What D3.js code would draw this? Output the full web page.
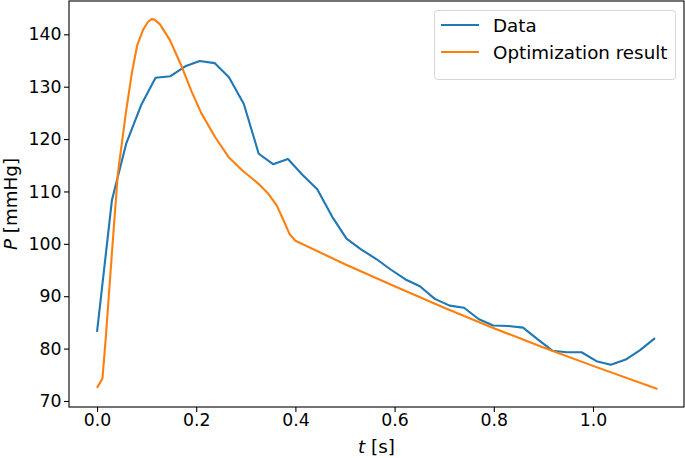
<!doctype html>
<html>

<head>
    <meta charset="utf-8">
    <title>Pressure fit</title>
    <script src="https://cdnjs.cloudflare.com/ajax/libs/d3/7.8.5/d3.min.js"></script>
    <style>
        body { margin: 0; background: #fff; }
        text { font-family: "DejaVu Sans", sans-serif; fill: #000; }
    </style>
</head>

<body>
    <div id="chart"></div>

    <script>
        // measured data (blue)
        const dataT = [0, 0.030, 0.059, 0.089, 0.118, 0.148, 0.178, 0.207, 0.237, 0.266,
            0.296, 0.326, 0.355, 0.385, 0.414, 0.444, 0.474, 0.503, 0.533, 0.563,
            0.592, 0.622, 0.651, 0.681, 0.711, 0.740, 0.770, 0.799, 0.829, 0.859,
            0.888, 0.918, 0.947, 0.977, 1.007, 1.036, 1.066, 1.095, 1.125];
        const dataP = [83.2, 108.3, 119.2, 126.5, 131.7, 132.0, 133.9, 134.9, 134.5, 131.8,
            126.7, 117.2, 115.2, 116.2, 113.2, 110.4, 105.2, 101.0, 98.9, 97.1,
            95.1, 93.2, 91.9, 89.5, 88.2, 87.8, 85.6, 84.4, 84.3, 84.0,
            81.8, 79.6, 79.3, 79.3, 77.6, 76.9, 77.9, 79.7, 82.0];

        // optimization result (orange)
        const optT = [0, 0.011, 0.018, 0.030, 0.042, 0.058, 0.070, 0.081, 0.093, 0.103,
            0.110, 0.116, 0.127, 0.147, 0.171, 0.191, 0.210, 0.238, 0.265, 0.292,
            0.325, 0.345, 0.362, 0.376, 0.388, 0.400, 0.50, 0.60, 0.70, 0.80,
            0.90, 1.00, 1.13];
        const optP = [72.5, 74.3, 82.5, 98.2, 113.4, 124.9, 132.5, 137.9, 140.9, 142.4,
            142.9, 142.8, 141.9, 138.9, 133.8, 129.0, 125.0, 120.4, 116.6, 114.1,
            111.5, 109.6, 107.4, 104.5, 101.9, 100.6, 96.1, 91.9, 87.8, 83.9,
            80.2, 76.7, 72.3];

        const xTicks = [0.0, 0.2, 0.4, 0.6, 0.8, 1.0];
        const yTicks = [70, 80, 90, 100, 110, 120, 130, 140];
        const seriesNames = ["Data", "Optimization result"];
        const colors = ["#1f77b4", "#ff7f0e"];

        const W = 685, H = 458;
        const mLeft = 69, mRight = 684, mTop = 1, mBottom = 407;
        const tickFont = 17.3, labelFont = 18.3;

        const svg = d3.select("#chart").append("svg")
            .attr("width", W)
            .attr("height", H);

        const x = d3.scaleLinear().domain([-0.0565, 1.1835]).range([mLeft, mRight]);
        const y = d3.scaleLinear().domain([68.85, 146.36]).range([mBottom, mTop]);

        // lines
        const line = d3.line().x(d => x(d[0])).y(d => y(d[1]));
        const series = [d3.zip(dataT, dataP), d3.zip(optT, optP)];

        svg.append("g")
            .selectAll("path")
            .data(series)
            .join("path")
            .attr("d", line)
            .attr("fill", "none")
            .attr("stroke", (d, i) => colors[i])
            .attr("stroke-width", 2.1)
            .attr("stroke-linejoin", "round")
            .attr("stroke-linecap", "butt");

        // axes
        const xAxis = svg.append("g")
            .attr("transform", `translate(0,${mBottom})`)
            .call(d3.axisBottom(x).tickValues(xTicks).tickFormat(d3.format(".1f")).tickSize(5).tickPadding(2));
        const yAxis = svg.append("g")
            .attr("transform", `translate(${mLeft},0)`)
            .call(d3.axisLeft(y).tickValues(yTicks).tickSize(5).tickPadding(2.5));

        [xAxis, yAxis].forEach(g => {
            g.select(".domain").remove();
            g.selectAll(".tick line").attr("stroke", "#000").attr("stroke-width", 1.1);
            g.selectAll(".tick text").attr("font-size", tickFont).attr("font-family", "DejaVu Sans");
        });

        // frame
        svg.append("rect")
            .attr("x", mLeft).attr("y", mTop)
            .attr("width", mRight - mLeft).attr("height", mBottom - mTop)
            .attr("fill", "none")
            .attr("stroke", "#000")
            .attr("stroke-width", 1.1);

        // axis labels
        const xl = svg.append("text")
            .attr("x", (mLeft + mRight) / 2)
            .attr("y", 453)
            .attr("text-anchor", "middle")
            .attr("font-size", labelFont);
        xl.append("tspan").attr("font-style", "italic").text("t");
        xl.append("tspan").text(" [s]");

        const yl = svg.append("text")
            .attr("transform", `translate(16.5,${(mTop + mBottom) / 2}) rotate(-90)`)
            .attr("text-anchor", "middle")
            .attr("font-size", labelFont);
        yl.append("tspan").attr("font-style", "italic").text("P");
        yl.append("tspan").text(" [mmHg]");

        // legend
        const legend = svg.append("g");
        legend.append("rect")
            .attr("x", 434.5).attr("y", 10.5)
            .attr("width", 241).attr("height", 69)
            .attr("rx", 3)
            .attr("fill", "#fff")
            .attr("fill-opacity", 0.8)
            .attr("stroke", "#d6d6d6")
            .attr("stroke-width", 1);

        const items = legend.selectAll("g.item")
            .data(seriesNames)
            .join("g")
            .attr("transform", (d, i) => `translate(0,${25 + i * 27})`);
        items.append("line")
            .attr("x1", 441).attr("x2", 479)
            .attr("stroke", (d, i) => colors[i])
            .attr("stroke-width", 2.1);
        items.append("text")
            .attr("x", 493)
            .attr("y", 6.5)
            .attr("font-size", labelFont)
            .text(d => d);
    </script>
</body>

</html>
